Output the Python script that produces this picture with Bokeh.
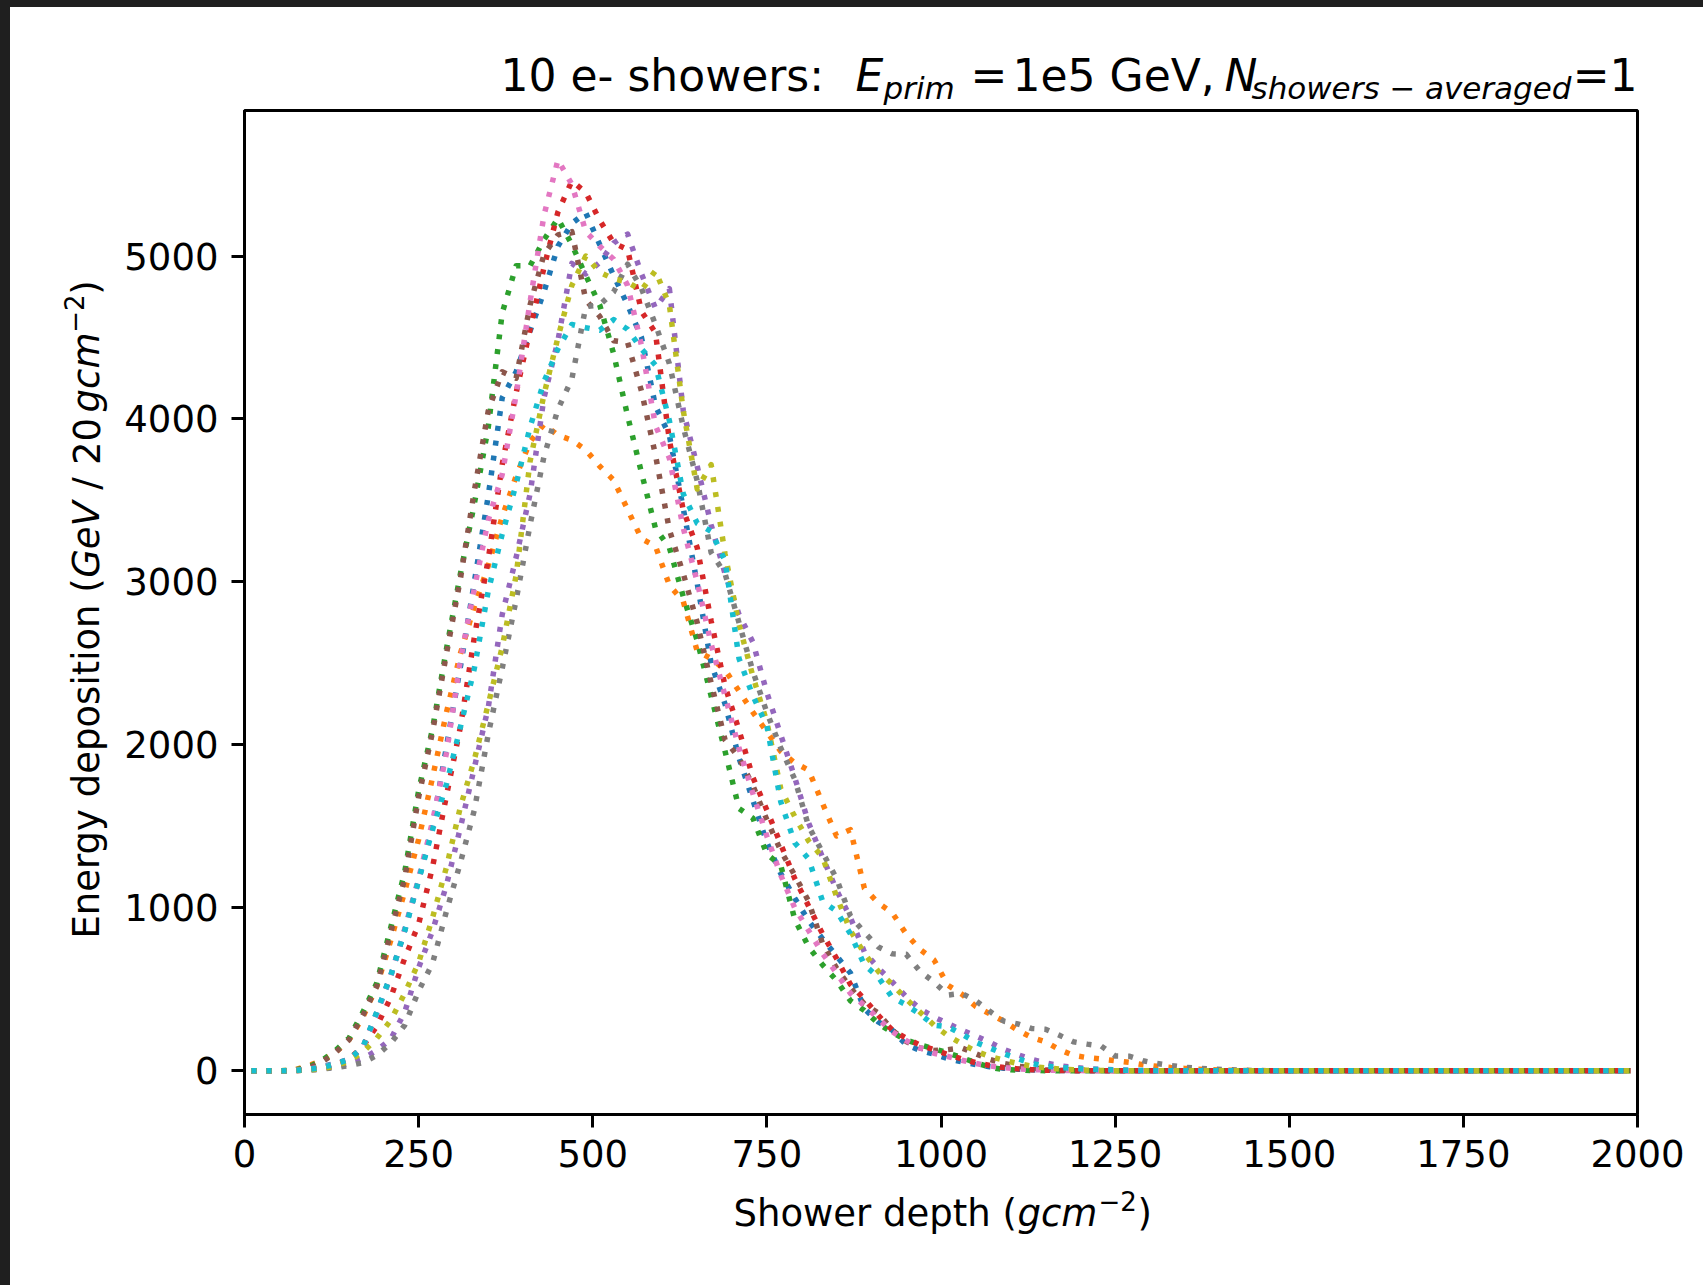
import math
from bokeh.plotting import figure
from bokeh.models import FixedTicker, Range1d, Spacer
from bokeh.core.properties import value
from bokeh.layouts import column, row
from bokeh.embed import file_html
from bokeh.resources import INLINE

# ---------------- data (energy deposition per 20 g/cm^2 bin, bin centres) ----------------
depth = [10 + 20 * i for i in range(100)]

shower_blue = [
    0, 0, 0, 2, 10, 25, 45, 70, 145, 360,
    585, 860, 1170, 1500, 1990, 2480, 3000, 3530, 4130, 4290,
    4540, 4780, 5060, 5200, 5265, 5070, 4880, 4700, 4500, 4080,
    3900, 3450, 2990, 2500, 2250, 1920, 1660, 1400, 1210, 1060,
    920, 810, 705, 600, 380, 300, 250, 160, 125, 102,
    75, 55, 38, 25, 16, 10, 6, 4, 2, 1,
    1, 0, 0, 0, 0, 0, 0, 0, 0, 0,
    0, 0, 0, 0, 0, 0, 0, 0, 0, 0,
    0, 0, 0, 0, 0, 0, 0, 0, 0, 0,
    0, 0, 0, 0, 0, 0, 0, 0, 0, 0,
]
shower_orange = [
    0, 0, 0, 3, 30, 60, 110, 190, 330, 520,
    800, 1100, 1420, 1800, 2200, 2560, 2850, 3100, 3400, 3650,
    3860, 3968, 3900, 3870, 3810, 3710, 3625, 3445, 3265, 3220,
    2980, 2880, 2575, 2530, 2460, 2330, 2200, 2080, 1960, 1890,
    1845, 1640, 1441, 1480, 1120, 1030, 970, 840, 745, 680,
    525, 470, 395, 350, 305, 250, 205, 178, 130, 95,
    81, 72, 62, 52, 38, 28, 20, 15, 10, 6,
    4, 2, 1, 0, 0, 0, 0, 0, 0, 0,
    0, 0, 0, 0, 0, 0, 0, 0, 0, 0,
    0, 0, 0, 0, 0, 0, 0, 0, 0, 0,
]
shower_green = [
    0, 0, 0, 3, 20, 60, 122, 200, 360, 540,
    880, 1220, 1720, 2100, 2590, 3050, 3480, 3950, 4650, 4940,
    4940, 5100, 5230, 5070, 4880, 4700, 4400, 4020, 3670, 3330,
    3210, 2910, 2640, 2300, 1960, 1610, 1550, 1330, 1260, 930,
    760, 650, 555, 430, 370, 290, 235, 190, 160, 135,
    110, 80, 50, 22, 8, 4, 2, 1, 1, 0,
    0, 0, 0, 0, 0, 0, 0, 0, 0, 0,
    0, 0, 0, 0, 0, 0, 0, 0, 0, 0,
    0, 0, 0, 0, 0, 0, 0, 0, 0, 0,
    0, 0, 0, 0, 0, 0, 0, 0, 0, 0,
]
shower_red = [
    0, 0, 0, 1, 6, 16, 35, 70, 150, 275,
    450, 690, 900, 1250, 1690, 2110, 2660, 3140, 3720, 4160,
    4550, 4930, 5270, 5460, 5390, 5220, 5080, 5040, 4660, 4530,
    3870, 3440, 3210, 2760, 2360, 2090, 1800, 1600, 1390, 1180,
    1010, 840, 690, 530, 440, 340, 250, 200, 158, 130,
    100, 72, 50, 33, 20, 12, 7, 4, 2, 1,
    0, 0, 0, 0, 0, 0, 0, 0, 0, 0,
    0, 0, 0, 0, 0, 0, 0, 0, 0, 0,
    0, 0, 0, 0, 0, 0, 0, 0, 0, 0,
    0, 0, 0, 0, 0, 0, 0, 0, 0, 0,
]
shower_purple = [
    0, 0, 0, 1, 4, 10, 25, 45, 75, 125,
    195, 360, 633, 860, 1140, 1493, 1860, 2230, 2800, 3150,
    3540, 4130, 4480, 4955, 4890, 4960, 5080, 5135, 4890, 4680,
    4800, 4050, 3710, 3350, 3050, 2800, 2630, 2320, 2060, 1800,
    1520, 1310, 1110, 940, 730, 630, 545, 455, 380, 330,
    290, 250, 214, 175, 132, 100, 70, 48, 32, 21,
    14, 9, 6, 4, 2, 1, 0, 0, 0, 0,
    0, 0, 0, 0, 0, 0, 0, 0, 0, 0,
    0, 0, 0, 0, 0, 0, 0, 0, 0, 0,
    0, 0, 0, 0, 0, 0, 0, 0, 0, 0,
]
shower_brown = [
    0, 0, 0, 2, 15, 50, 110, 190, 340, 520,
    850, 1180, 1680, 2080, 2560, 3020, 3560, 4050, 4290, 4250,
    4700, 5010, 5130, 5150, 4730, 4630, 4480, 4470, 4170, 3780,
    3320, 3050, 2750, 2380, 2030, 1920, 1750, 1540, 1350, 1200,
    1040, 780, 630, 510, 410, 355, 250, 180, 140, 125,
    130, 140, 105, 70, 45, 28, 18, 11, 7, 5,
    3, 2, 1, 0, 0, 0, 0, 0, 0, 0,
    0, 0, 0, 0, 0, 0, 0, 0, 0, 0,
    0, 0, 0, 0, 0, 0, 0, 0, 0, 0,
    0, 0, 0, 0, 0, 0, 0, 0, 0, 0,
]
shower_pink = [
    0, 0, 0, 2, 10, 22, 42, 68, 140, 350,
    580, 870, 1180, 1530, 1950, 2520, 2960, 3380, 3660, 4150,
    4720, 5250, 5590, 5440, 5150, 5060, 4980, 4820, 4450, 3960,
    3760, 3330, 3000, 2620, 2300, 1980, 1700, 1440, 1200, 1000,
    860, 720, 600, 475, 400, 320, 240, 185, 140, 108,
    88, 65, 45, 30, 20, 12, 8, 5, 3, 2,
    1, 0, 0, 0, 0, 0, 0, 0, 0, 0,
    0, 0, 0, 0, 0, 0, 0, 0, 0, 0,
    0, 0, 0, 0, 0, 0, 0, 0, 0, 0,
    0, 0, 0, 0, 0, 0, 0, 0, 0, 0,
]
shower_gray = [
    0, 0, 0, 1, 4, 10, 20, 32, 50, 95,
    170, 280, 490, 660, 980, 1277, 1600, 2066, 2470, 2890,
    3350, 3770, 4060, 4245, 4690, 4700, 4780, 4950, 4800, 4580,
    4340, 3950, 3620, 3180, 3050, 2750, 2450, 2200, 1980, 1790,
    1500, 1340, 1180, 950, 850, 760, 718, 715, 610, 545,
    465, 475, 430, 365, 305, 288, 260, 255, 218, 178,
    164, 152, 91, 90, 62, 45, 32, 22, 15, 10,
    7, 4, 2, 1, 0, 0, 0, 0, 0, 0,
    0, 0, 0, 0, 0, 0, 0, 0, 0, 0,
    0, 0, 0, 0, 0, 0, 0, 0, 0, 0,
]
shower_olive = [
    0, 0, 0, 1, 4, 12, 30, 60, 115, 200,
    310, 475, 664, 940, 1250, 1620, 1910, 2250, 2600, 3040,
    3740, 4150, 4500, 4820, 5000, 4900, 4860, 4840, 4790, 4910,
    4700, 4050, 3570, 3720, 3170, 2740, 2420, 2140, 1730, 1560,
    1410, 1310, 1070, 860, 720, 610, 531, 440, 360, 280,
    215, 165, 120, 88, 65, 45, 28, 18, 11, 7,
    4, 2, 1, 0, 0, 0, 0, 0, 0, 0,
    0, 0, 0, 0, 0, 0, 0, 0, 0, 0,
    0, 0, 0, 0, 0, 0, 0, 0, 0, 0,
    0, 0, 0, 0, 0, 0, 0, 0, 0, 0,
]
shower_cyan = [
    0, 0, 0, 2, 8, 20, 40, 70, 145, 360,
    585, 860, 1170, 1480, 1760, 2110, 2470, 2945, 3293, 3600,
    3950, 4230, 4430, 4580, 4560, 4545, 4610, 4550, 4430, 4330,
    3990, 3540, 3360, 3310, 3130, 2530, 2300, 2117, 1650, 1400,
    1300, 1040, 980, 840, 650, 575, 450, 405, 347, 280,
    270, 225, 175, 140, 105, 75, 45, 30, 20, 15,
    10, 7, 5, 3, 2, 1, 0, 0, 0, 0,
    0, 0, 0, 0, 0, 0, 0, 0, 0, 0,
    0, 0, 0, 0, 0, 0, 0, 0, 0, 0,
    0, 0, 0, 0, 0, 0, 0, 0, 0, 0,
]

series = [shower_blue, shower_orange, shower_green, shower_red, shower_purple,
          shower_brown, shower_pink, shower_gray, shower_olive, shower_cyan]
colors = ["#1f77b4", "#ff7f0e", "#2ca02c", "#d62728", "#9467bd",
          "#8c564b", "#e377c2", "#7f7f7f", "#bcbd22", "#17becf"]

x_ticks = [0, 250, 500, 750, 1000, 1250, 1500, 1750, 2000]
y_ticks = [0, 1000, 2000, 3000, 4000, 5000]

title_parts = ["10 e- showers:", "E", "prim", "=", "1e5 GeV,", "N",
               "showers", "\u2212", "averaged", "=1"]
xlabel_parts = ["Shower depth (", "gcm", "\u22122", ")"]
ylabel_parts = ["Energy deposition", "(", "GeV", "/", "20", "gcm", "\u22122", ")"]

# ---------------- page geometry (pixels) ----------------
PAGE_W, PAGE_H = 1703, 1285
BAND_X, BAND_Y = 10, 7            # dark screenshot bands (left, top)
FL, FR, FT, FB = 244, 1637, 110, 1114   # plot frame edges on the page
TITLE_BOTTOM = 107                 # page y where the main figure starts
MAIN_BOTTOM = 1188                 # page y where the x-label strip starts
YLAB_RIGHT = 120                   # page x where the main figure starts

FONT = "DejaVu Sans"
DARK = "#1f1f1f"
TICK_PX = 37
TITLE_PX = 44
SUB_PX = 31
SUP_PX = 26
BASE_FIX = 0.32   # baseline correction of the text glyph (fraction of font size)


def text_panel(w, h, top=0, bottom=0, y0=None, y1=None):
    """A bare figure used as a text canvas; y grows downward in page pixels."""
    yr = Range1d(h - bottom, top) if y0 is None else Range1d(y1, y0)
    f = figure(width=w, height=h, output_backend="svg", toolbar_location=None,
               x_range=Range1d(0, w), y_range=yr,
               x_axis_type=None, y_axis_type=None, title=None,
               min_border=0, min_border_left=0, min_border_right=0,
               min_border_top=top, min_border_bottom=bottom)
    f.outline_line_color = None
    f.grid.visible = False
    f.background_fill_color = "white"
    f.border_fill_color = "white"
    return f


def put(f, ox, oy, text, X, Y, size, style="normal", align="left", rotated=False):
    """Place text whose baseline passes through page pixel (X, Y)."""
    if rotated:
        ax, ay, angle = X - BASE_FIX * size, Y, math.pi / 2
    else:
        ax, ay, angle = X, Y - BASE_FIX * size, 0.0
    f.text(x=[ax - ox], y=[ay - oy], text=[text], text_font=value(FONT),
           text_font_size=value(f"{size}px"), text_font_style=style,
           text_color="black", text_align=align, text_baseline="alphabetic",
           angle=angle)


# ---------------- main plot ----------------
main_w = PAGE_W - YLAB_RIGHT
main_h = MAIN_BOTTOM - TITLE_BOTTOM
p = figure(width=main_w, height=main_h, output_backend="svg", toolbar_location=None,
           x_range=Range1d(0, 2000), y_range=Range1d(-268, 5893), title=None,
           min_border_left=FL - YLAB_RIGHT, min_border_right=PAGE_W - FR,
           min_border_top=FT - TITLE_BOTTOM, min_border_bottom=MAIN_BOTTOM - FB)
p.background_fill_color = "white"
p.border_fill_color = "white"
p.outline_line_color = "black"
p.outline_line_width = 3
p.grid.visible = False

for ax in (p.xaxis[0], p.yaxis[0]):
    ax.axis_line_color = "black"
    ax.axis_line_width = 3
    ax.major_tick_line_color = "black"
    ax.major_tick_line_width = 3
    ax.major_tick_out = 13
    ax.major_tick_in = 0
    ax.minor_tick_out = 0
    ax.minor_tick_in = 0
    ax.major_label_text_font = FONT
    ax.major_label_text_font_size = f"{TICK_PX}px"
    ax.major_label_text_color = "black"
p.xaxis.ticker = FixedTicker(ticks=x_ticks)
p.yaxis.ticker = FixedTicker(ticks=y_ticks)
p.xaxis.major_label_standoff = 12
p.yaxis.major_label_standoff = 13

for vals, c in zip(series, colors):
    p.line(x=depth, y=vals, line_color=c, line_width=5.5,
           line_dash="5 10", line_cap="butt", line_join="round")

# ---------------- title strip ----------------
tfig = text_panel(PAGE_W - BAND_X, TITLE_BOTTOM - BAND_Y)
TB, SB = 89, 97
t = title_parts
put(tfig, BAND_X, BAND_Y, t[0], 500, TB, TITLE_PX)
put(tfig, BAND_X, BAND_Y, t[1], 855, TB, TITLE_PX, "italic")
put(tfig, BAND_X, BAND_Y, t[2], 883, SB, SUB_PX, "italic")
put(tfig, BAND_X, BAND_Y, t[3], 970, TB, TITLE_PX)
put(tfig, BAND_X, BAND_Y, t[4], 1012, TB, TITLE_PX)
put(tfig, BAND_X, BAND_Y, t[5], 1224, TB, TITLE_PX, "italic")
put(tfig, BAND_X, BAND_Y, t[6], 1251, SB, SUB_PX, "italic")
put(tfig, BAND_X, BAND_Y, t[7], 1402, SB, SUB_PX, "italic", "center")
put(tfig, BAND_X, BAND_Y, t[8], 1571, SB, SUB_PX, "italic", "right")
put(tfig, BAND_X, BAND_Y, t[9], 1637, TB, TITLE_PX, "normal", "right")

# ---------------- y-label strip (frame aligned with the main plot frame) ----------------
# its y data coordinate is the page y itself (FT at the top of the frame, FB at the bottom)
yfig = text_panel(YLAB_RIGHT - BAND_X, main_h,
                  top=FT - TITLE_BOTTOM, bottom=MAIN_BOTTOM - FB, y0=FT, y1=FB)
YX = 98
yl = ylabel_parts
put(yfig, BAND_X, 0, yl[0], YX, 771, TICK_PX, "normal", "center", True)
put(yfig, BAND_X, 0, yl[1], YX, 585, TICK_PX, "normal", "center", True)
put(yfig, BAND_X, 0, yl[2], YX, 539, TICK_PX, "italic", "center", True)
put(yfig, BAND_X, 0, yl[3], YX, 483, TICK_PX, "normal", "center", True)
put(yfig, BAND_X, 0, yl[4], YX, 441, TICK_PX, "normal", "center", True)
put(yfig, BAND_X, 0, yl[5], YX, 372, TICK_PX, "italic", "center", True)
put(yfig, BAND_X, 0, yl[6], YX - 16, 313, SUP_PX, "normal", "center", True)
put(yfig, BAND_X, 0, yl[7], YX, 287, TICK_PX, "normal", "center", True)

# ---------------- x-label strip ----------------
xfig = text_panel(PAGE_W - BAND_X, PAGE_H - MAIN_BOTTOM)
XB = 1225
xl = xlabel_parts
put(xfig, BAND_X, MAIN_BOTTOM, xl[0], 733, XB, TICK_PX)
put(xfig, BAND_X, MAIN_BOTTOM, xl[1], 1017, XB, TICK_PX, "italic")
put(xfig, BAND_X, MAIN_BOTTOM, xl[2], 1098, XB - 16, SUP_PX)
put(xfig, BAND_X, MAIN_BOTTOM, xl[3], 1137, XB, TICK_PX)

# ---------------- assemble ----------------
top_bar = Spacer(width=PAGE_W, height=BAND_Y, styles={"background-color": DARK})
left_bar = Spacer(width=BAND_X, height=PAGE_H - BAND_Y, styles={"background-color": DARK})
content = column(tfig, row(yfig, p), xfig)
layout = column(top_bar, row(left_bar, content))

open("out.html", "w").write(file_html(layout, INLINE))
